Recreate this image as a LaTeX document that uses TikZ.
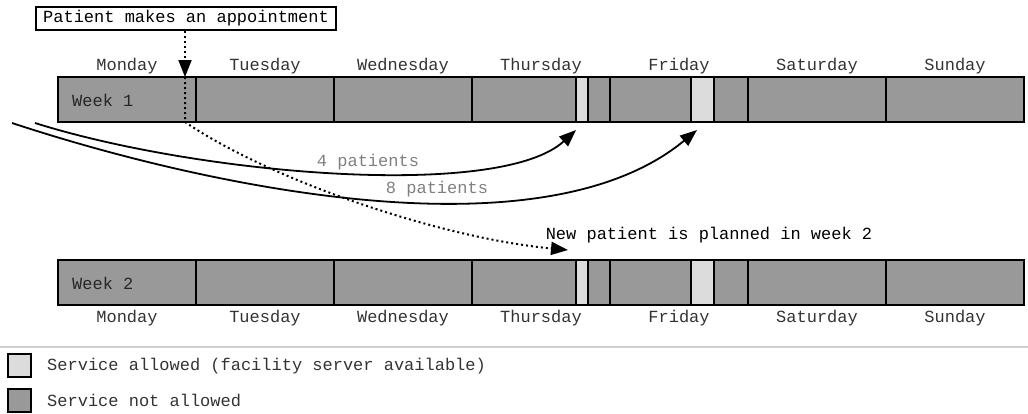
\documentclass[tikz,border=0pt]{standalone}
\usepackage{fontspec}
\setmonofont{Liberation Mono}
\usetikzlibrary{arrows.meta}
\definecolor{darkcell}{HTML}{999999}
\definecolor{lightcell}{HTML}{DCDCDC}
\definecolor{txtdark}{HTML}{333333}
\definecolor{txtgray}{HTML}{808080}
\definecolor{sepline}{HTML}{D0D0D0}
\begin{document}
\begin{tikzpicture}[x=1pt,y=-1pt,
  mono/.style={font=\ttfamily\fontsize{17}{20}\selectfont, inner sep=0pt},
  cell/.style={draw=black, line width=1.5pt, fill=darkcell},
  freecell/.style={draw=black, line width=1.5pt, fill=lightcell},
  daylbl/.style={mono, text=txtdark},
  weeklbl/.style={mono, text=black!85, anchor=west},
  flowlbl/.style={mono, text=txtgray},
  topbox/.style={mono, draw=black, line width=1.5pt, inner xsep=7pt, minimum height=23pt},
  tip/.style={-{Triangle[length=17pt,width=13pt]}},
  dots/.style={line width=2pt, dash pattern=on 2pt off 3pt},
  flow/.style={line width=1.8pt, tip},
  legbox/.style={draw=black, line width=2.2pt}
]
\useasboundingbox (0,0) rectangle (1028,413);

% ---------- week bars ----------
\foreach \y/\yy in {77/122, 260/305} {
  \draw[cell] (58,\y) rectangle (196,\yy);
  \draw[cell] (196,\y) rectangle (334,\yy);
  \draw[cell] (334,\y) rectangle (472,\yy);
  \draw[cell] (472,\y) rectangle (576,\yy);
  \draw[freecell] (576,\y) rectangle (588,\yy);
  \draw[cell] (588,\y) rectangle (610,\yy);
  \draw[cell] (610,\y) rectangle (691,\yy);
  \draw[freecell] (691,\y) rectangle (714,\yy);
  \draw[cell] (714,\y) rectangle (748,\yy);
  \draw[cell] (748,\y) rectangle (886,\yy);
  \draw[cell] (886,\y) rectangle (1024,\yy);
}
\node[weeklbl] (wk1) at (72,100) {Week 1};
\node[weeklbl] (wk2) at (72,283) {Week 2};

% ---------- day labels ----------
\foreach \i/\d in {0/Monday,1/Tuesday,2/Wednesday,3/Thursday,4/Friday,5/Saturday,6/Sunday} {
  \node[daylbl] (top\i) at (127+138*\i,66) {\d};
  \node[daylbl] (bot\i) at (127+138*\i,318) {\d};
}

% ---------- appointment ----------
\node[topbox] (appt) at (186,18.5) {Patient makes an appointment};
\coordinate (hit) at (185,77);
\coordinate (hitlow) at (185,122);
\coordinate (plan) at (568,250);
\draw[dots, tip] (appt.south -| hit) -- (hit);
\draw[dots, tip] (hit) -- (hitlow) .. controls (270,180) and (440,238) .. (plan);
\node[mono, text=black] (newlbl) at (709,235) {New patient is planned in week 2};

% ---------- patient flows ----------
\coordinate (s4) at (35,123);
\coordinate (e4) at (576,130);
\coordinate (s8) at (12,123);
\coordinate (e8) at (697,130);
\draw[flow] (s4) .. controls (200,175) and (500,200) .. (e4);
\draw[flow] (s8) .. controls (200,185) and (540,260) .. (e8);
\node[flowlbl] (l4) at (368,162) {4 patients};
\node[flowlbl] (l8) at (437,189) {8 patients};

% ---------- legend ----------
\coordinate (sepL) at (0,347);
\coordinate (sepR) at (1028,347);
\draw[sepline, line width=1.2pt] (sepL) -- (sepR);
\draw[legbox, fill=lightcell] (8,354) rectangle (31,377);
\draw[legbox, fill=darkcell] (8,389) rectangle (31,412);
\node[mono, text=txtdark, anchor=west] (leg1) at (47,366) {Service allowed (facility server available)};
\node[mono, text=txtdark, anchor=west] (leg2) at (47,400) {Service not allowed};
\end{tikzpicture}
\end{document}
